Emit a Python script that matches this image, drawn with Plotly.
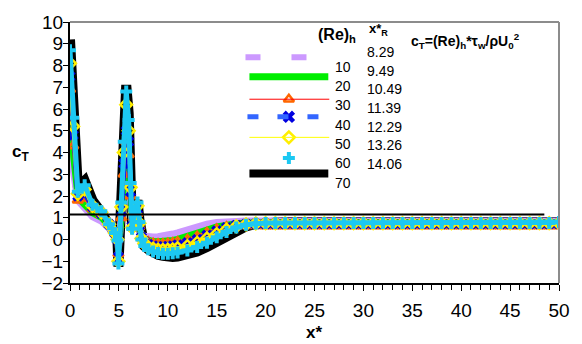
import plotly.graph_objects as go

# ---------------- data ----------------
X = [0, 0.33, 0.8, 1.5, 2.3, 3.2, 4.0, 4.6, 4.85,
     4.95, 5.25, 5.5, 5.75, 6.0, 6.2, 6.35, 6.6, 6.9, 7.1,
     7.3, 7.6, 8, 8.5, 9, 9.5, 10, 10.5, 11, 12, 13, 14, 15, 16, 17, 18, 19,
     20, 21, 22, 23, 24, 25, 26, 27, 28, 29, 30, 31, 32, 33, 34, 35,
     36, 37, 38, 39, 40, 41, 42, 43, 44, 45, 46, 47, 48, 49, 50]

Y10 = [5.5, 3.2, 1.8, 1.4, 1.05, 0.85, 0.55, 0.3, 0.15,
       -0.4, 0.8, 2.2, 3.5, 3.0, 1.6, 0.75, 0.85, 0.9, 0.45,
       0.25, 0.15, 0.12, 0.12, 0.13, 0.15, 0.2, 0.25, 0.3, 0.45, 0.6, 0.7, 0.78, 0.82, 0.84, 0.85, 0.85,
       0.85, 0.85, 0.85, 0.85, 0.85, 0.85, 0.85, 0.85, 0.85, 0.85, 0.85, 0.85, 0.85, 0.85, 0.85, 0.85,
       0.85, 0.85, 0.85, 0.85, 0.85, 0.85, 0.85, 0.85, 0.85, 0.85, 0.85, 0.85, 0.85, 0.85, 0.85]
Y20 = [6.3, 3.8, 1.9, 1.6, 1.2, 1.0, 0.65, 0.3, 0.1,
       -0.5, 0.9, 2.6, 4.0, 3.5, 1.8, 0.7, 0.9, 1.0, 0.5,
       0.2, 0.05, -0.02, -0.07, -0.08, -0.07, -0.05, -0.02, 0.03, 0.15, 0.3, 0.45, 0.6, 0.7, 0.75, 0.78, 0.8,
       0.8, 0.8, 0.8, 0.8, 0.8, 0.8, 0.8, 0.8, 0.8, 0.8, 0.8, 0.8, 0.8, 0.8, 0.8, 0.8,
       0.8, 0.8, 0.8, 0.8, 0.8, 0.8, 0.8, 0.8, 0.8, 0.8, 0.8, 0.8, 0.8, 0.8, 0.8]
Y30 = [6.9, 4.3, 1.8, 1.9, 1.4, 1.15, 0.7, 0.3, 0.05,
       -0.65, 1.0, 3.0, 4.5, 3.9, 2.0, 0.65, 1.0, 1.2, 0.6,
       0.15, 0.0, -0.1, -0.17, -0.2, -0.2, -0.18, -0.15, -0.1, 0.0, 0.15, 0.32, 0.48, 0.58, 0.62, 0.63, 0.63,
       0.62, 0.62, 0.62, 0.62, 0.62, 0.62, 0.62, 0.62, 0.62, 0.62, 0.62, 0.62, 0.62, 0.62, 0.62, 0.62,
       0.62, 0.62, 0.62, 0.62, 0.62, 0.62, 0.62, 0.62, 0.62, 0.62, 0.62, 0.62, 0.62, 0.62, 0.62]
Y40 = [7.5, 4.8, 2.0, 2.1, 1.5, 1.2, 0.7, 0.3, 0.0,
       -0.8, 1.3, 3.5, 5.0, 4.5, 2.2, 0.6, 1.1, 1.4, 0.65,
       0.1, -0.1, -0.22, -0.3, -0.33, -0.33, -0.32, -0.3, -0.25, -0.15, 0.0, 0.2, 0.4, 0.55, 0.65, 0.7, 0.72,
       0.72, 0.72, 0.72, 0.72, 0.72, 0.72, 0.72, 0.72, 0.72, 0.72, 0.72, 0.72, 0.72, 0.72, 0.72, 0.72,
       0.72, 0.72, 0.72, 0.72, 0.72, 0.72, 0.72, 0.72, 0.72, 0.72, 0.72, 0.72, 0.72, 0.72, 0.72]
Y50 = [8.1, 5.2, 2.1, 2.3, 1.55, 1.25, 0.7, 0.3, 0.0,
       -1.0, 1.5, 4.0, 6.2, 5.0, 2.4, 0.55, 1.2, 1.55, 0.75,
       0.05, -0.2, -0.35, -0.42, -0.47, -0.48, -0.47, -0.45, -0.4, -0.3, -0.15, 0.05, 0.25, 0.45, 0.6, 0.7, 0.74,
       0.75, 0.75, 0.75, 0.75, 0.75, 0.75, 0.75, 0.75, 0.75, 0.75, 0.75, 0.75, 0.75, 0.75, 0.75, 0.75,
       0.75, 0.75, 0.75, 0.75, 0.75, 0.75, 0.75, 0.75, 0.75, 0.75, 0.75, 0.75, 0.75, 0.75, 0.75]
Y60 = [8.7, 5.6, 2.2, 2.5, 1.6, 1.3, 0.7, 0.3, -0.05,
       -1.1, 1.7, 4.5, 6.8, 5.5, 2.6, 0.5, 1.3, 1.7, 0.8,
       0.0, -0.3, -0.45, -0.55, -0.62, -0.65, -0.65, -0.63, -0.6, -0.5, -0.35, -0.15, 0.1, 0.35, 0.55, 0.68, 0.74,
       0.76, 0.76, 0.76, 0.76, 0.76, 0.76, 0.76, 0.76, 0.76, 0.76, 0.76, 0.76, 0.76, 0.76, 0.76, 0.76,
       0.76, 0.76, 0.76, 0.76, 0.76, 0.76, 0.76, 0.76, 0.76, 0.76, 0.76, 0.76, 0.76, 0.76, 0.8]
Y70 = [9.2, 6.3, 2.4, 2.7, 1.8, 1.25, 0.75, 0.35, 0.05,
       -1.25, 2.0, 5.0, 7.1, 5.8, 2.8, 0.4, 1.2, 1.8, 0.9,
       0.0, -0.3, -0.45, -0.6, -0.7, -0.75, -0.8, -0.8, -0.78, -0.7, -0.55, -0.35, -0.1, 0.15, 0.4, 0.6, 0.72,
       0.78, 0.8, 0.8, 0.8, 0.8, 0.8, 0.8, 0.8, 0.8, 0.8, 0.8, 0.8, 0.8, 0.8, 0.8, 0.8,
       0.8, 0.8, 0.8, 0.8, 0.8, 0.8, 0.8, 0.8, 0.8, 0.8, 0.8, 0.8, 0.8, 0.8, 0.8]

RE_LABELS = ["10", "20", "30", "40", "50", "60", "70"]
XR_LABELS = ["8.29", "9.49", "10.49", "11.39", "12.29", "13.26", "14.06"]

REF_X = [0, 48.5]
REF_Y = [1.15, 1.15]

X_TICKS = [0, 5, 10, 15, 20, 25, 30, 35, 40, 45, 50]
Y_TICKS = [-2, -1, 0, 1, 2, 3, 4, 5, 6, 7, 8, 9, 10]

# ---------------- figure ----------------
W, H = 582, 344
L, R, T, B = 70, 16, 16, 61
PW, PH = W - L - R, H - T - B
FONT = "Liberation Sans, Arial, sans-serif"


def px(xp):
    return (xp - L) / PW


def py(yp):
    return (T + PH - yp) / PH


fig = go.Figure()

# black (70) first, behind the others
fig.add_trace(go.Scatter(x=X, y=Y70, mode="lines",
                         line=dict(color="black", width=10)))
fig.add_trace(go.Scatter(x=X, y=Y10, mode="lines",
                         line=dict(color="#CC99FF", width=7)))
fig.add_trace(go.Scatter(x=X, y=Y20, mode="lines",
                         line=dict(color="#00EE00", width=6)))
fig.add_trace(go.Scatter(x=X, y=Y30, mode="lines+markers",
                         line=dict(color="#FF6600", width=3),
                         marker=dict(symbol="triangle-up-open", size=9, color="#FF6600",
                                     line=dict(width=2.5, color="#FF6600"))))
fig.add_trace(go.Scatter(x=X, y=Y40, mode="lines+markers",
                         line=dict(color="#1A1AF0", width=5),
                         marker=dict(symbol="x", size=10, color="#0000E0",
                                     line=dict(width=0))))
fig.add_trace(go.Scatter(x=X, y=Y50, mode="lines+markers",
                         line=dict(color="#FFFF00", width=4),
                         marker=dict(symbol="diamond-open", size=9, color="#FFEE00",
                                     line=dict(width=2.5, color="#FFEE00"))))
fig.add_trace(go.Scatter(x=X, y=Y60, mode="lines+markers",
                         line=dict(color="#1CC8F2", width=5),
                         marker=dict(symbol="cross", size=10, color="#1CC8F2",
                                     line=dict(width=0))))
fig.add_trace(go.Scatter(x=REF_X, y=REF_Y, mode="lines",
                         line=dict(color="black", width=2)))

shapes = []
# top and right gray frame
shapes.append(dict(type="line", xref="paper", yref="paper", x0=0, x1=1, y0=1, y1=1,
                   line=dict(color="#8C8C8C", width=2)))
shapes.append(dict(type="line", xref="paper", yref="paper", x0=1, x1=1, y0=0, y1=1,
                   line=dict(color="#8C8C8C", width=2)))

# manual legend samples
LEG_X0, LEG_X1, LEG_XM = 249, 335, 292
ROW_Y = [52, 72, 95, 113, 134, 155, 171]
shapes.append(dict(type="line", xref="paper", yref="paper",
                   x0=px(248), x1=px(311), y0=py(ROW_Y[0]), y1=py(ROW_Y[0]),
                   line=dict(color="#CC99FF", width=6, dash="15px,31px")))
shapes.append(dict(type="line", xref="paper", yref="paper",
                   x0=px(LEG_X0 + 3), x1=px(LEG_X1 - 3), y0=py(ROW_Y[1]), y1=py(ROW_Y[1]),
                   line=dict(color="#00EE00", width=7)))
shapes.append(dict(type="line", xref="paper", yref="paper",
                   x0=px(LEG_X0 + 3), x1=px(LEG_X1 - 2), y0=py(ROW_Y[2]), y1=py(ROW_Y[2]),
                   line=dict(color="#FF0000", width=1)))
shapes.append(dict(type="line", xref="paper", yref="paper",
                   x0=px(LEG_X0 + 1), x1=px(LEG_X1 - 12), y0=py(ROW_Y[3]), y1=py(ROW_Y[3]),
                   line=dict(color="#3366FF", width=5, dash="11px,19px")))
shapes.append(dict(type="line", xref="paper", yref="paper",
                   x0=px(LEG_X0 + 3), x1=px(LEG_X1 - 2), y0=py(ROW_Y[4]), y1=py(ROW_Y[4]),
                   line=dict(color="#FFFF00", width=1)))
shapes.append(dict(type="line", xref="paper", yref="paper",
                   x0=px(LEG_X0 + 3), x1=px(LEG_X1 - 3), y0=py(ROW_Y[6]), y1=py(ROW_Y[6]),
                   line=dict(color="black", width=8)))

# legend markers on an overlay axis in paper units
leg_syms = [("triangle-up-open", "#FF6600", 2, 9), ("x", "#0000E0", 3, 11),
            ("diamond-open", "#FFEE00", 4, 9), ("cross", "#1CC8F2", 5, 10)]
for sym, col, row, size in leg_syms:
    fig.add_trace(go.Scatter(x=[px(LEG_XM)], y=[py(ROW_Y[row])], mode="markers",
                             xaxis="x2", yaxis="y2", cliponaxis=False,
                             marker=dict(symbol=sym, size=size, color=col,
                                         line=dict(width=2.5 if "open" in sym else 0, color=col))))

ann = []
for i, lab in enumerate(RE_LABELS):
    ann.append(dict(x=px(337), y=py(62 + i * 19.7), xref="paper", yref="paper", text=lab,
                    showarrow=False, xanchor="left", yanchor="middle",
                    font=dict(size=14, color="black", family=FONT)))
for i, lab in enumerate(XR_LABELS):
    ann.append(dict(x=px(369), y=py(47 + i * 19.0), xref="paper", yref="paper", text=lab,
                    showarrow=False, xanchor="left", yanchor="middle",
                    font=dict(size=14, color="black", family=FONT)))
ann.append(dict(x=px(362), y=py(30), xref="paper", yref="paper",
                text="<b>(Re)<sub>h</sub></b>", showarrow=False, xanchor="right",
                yanchor="middle", font=dict(size=16, color="black", family=FONT)))
ann.append(dict(x=px(371), y=py(24), xref="paper", yref="paper",
                text="<b>x*<sub>R</sub></b>", showarrow=False, xanchor="left",
                yanchor="middle", font=dict(size=13, color="black", family=FONT)))
ann.append(dict(x=px(414), y=py(35), xref="paper", yref="paper",
                text="<b>c<sub>T</sub>=(Re)<sub>h</sub>*τ<sub>w</sub>/ρU<sub>0</sub><sup>2</sup></b>",
                showarrow=False, xanchor="left", yanchor="middle",
                font=dict(size=14, color="black", family=FONT)))
# axis titles
ann.append(dict(x=px(20), y=py(150), xref="paper", yref="paper",
                text="<b>c<sub>T</sub></b>", showarrow=False, xanchor="center",
                yanchor="middle", font=dict(size=17, color="black", family=FONT)))
ann.append(dict(x=px(317), y=py(334), xref="paper", yref="paper",
                text="<b>x*</b>", showarrow=False, xanchor="center",
                yanchor="middle", font=dict(size=17, color="black", family=FONT)))

fig.update_layout(
    width=W, height=H,
    margin=dict(l=L, r=R, t=T, b=B, pad=0),
    paper_bgcolor="white", plot_bgcolor="white",
    showlegend=False,
    font=dict(family=FONT, size=19, color="black"),
    shapes=shapes, annotations=ann,
    xaxis=dict(range=[0, 50], tickvals=X_TICKS, ticks="outside", ticklen=6, tickwidth=1,
               tickcolor="black", showline=True, linecolor="black", linewidth=2,
               showgrid=False, zeroline=False, tickfont=dict(size=19), ticklabelstandoff=3,
               minor=dict(dtick=1, ticks="outside", ticklen=5, tickcolor="black", showgrid=False)),
    yaxis=dict(range=[-2, 10], tickvals=Y_TICKS, ticks="outside", ticklen=5, tickwidth=1,
               tickcolor="black", showline=True, linecolor="black", linewidth=2,
               showgrid=False, zeroline=False, tickfont=dict(size=19), ticklabelstandoff=-4),
    xaxis2=dict(overlaying="x", range=[0, 1], visible=False),
    yaxis2=dict(overlaying="y", range=[0, 1], visible=False),
)

fig.write_html("out.html")
